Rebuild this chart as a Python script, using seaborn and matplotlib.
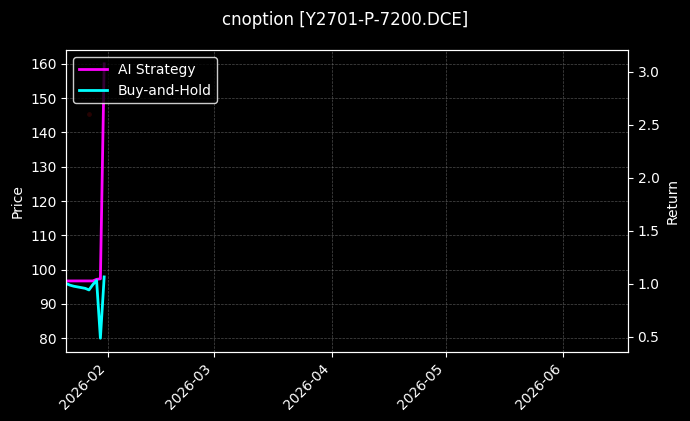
import pandas as pd
import matplotlib
matplotlib.use('Agg')
import matplotlib.pyplot as plt
import matplotlib.dates as mdates
import seaborn as sns

# dados
datas = pd.to_datetime(['2026-01-21', '2026-01-22', '2026-01-23', '2026-01-26', '2026-01-27',
                        '2026-01-28', '2026-01-29', '2026-01-30', '2026-01-31'])
ai_strategy = [1.025, 1.025, 1.025, 1.025, 1.025, 1.025, 1.04, 1.045, 3.075]
buy_hold = [1.0, 0.985, 0.975, 0.955, 0.94, 0.99, 1.03, 0.484, 1.063]

# marcador de preço (quase invisível)
sinal_data = pd.to_datetime(['2026-01-27'])
sinal_preco = [145.3]

titulo = 'cnoption [Y2701-P-7200.DCE]'
inicio, fim = pd.Timestamp('2026-01-21'), pd.Timestamp('2026-06-18')

plt.style.use('dark_background')
plt.rcParams['font.family'] = ['DejaVu Sans']

fig, ax1 = plt.subplots(figsize=(6.9, 4.21), dpi=100)
fig.subplots_adjust(left=0.096, right=0.910, top=0.881, bottom=0.164)

ax1.scatter(sinal_data, sinal_preco, s=6, color='#260303', zorder=1)
ax1.set_ylim(76, 164)
ax1.set_ylabel('Price')
ax1.grid(True, linestyle='--', linewidth=0.5, color='grey', alpha=0.6)

ax2 = ax1.twinx()
sns.lineplot(x=datas, y=ai_strategy, ax=ax2, color='magenta', linewidth=2, label='AI Strategy')
sns.lineplot(x=datas, y=buy_hold, ax=ax2, color='cyan', linewidth=2, label='Buy-and-Hold')
ax2.set_ylabel('Return')
ax2.legend(loc='upper left', facecolor='black', edgecolor='white')

ax1.set_xlim(inicio, fim)
ax1.xaxis.set_major_locator(mdates.MonthLocator())
ax1.xaxis.set_major_formatter(mdates.DateFormatter('%Y-%m'))
plt.setp(ax1.get_xticklabels(), rotation=45, ha='right')

fig.suptitle(titulo, fontsize=12, y=0.975)
plt.savefig('out.png', dpi=100, facecolor='black')
